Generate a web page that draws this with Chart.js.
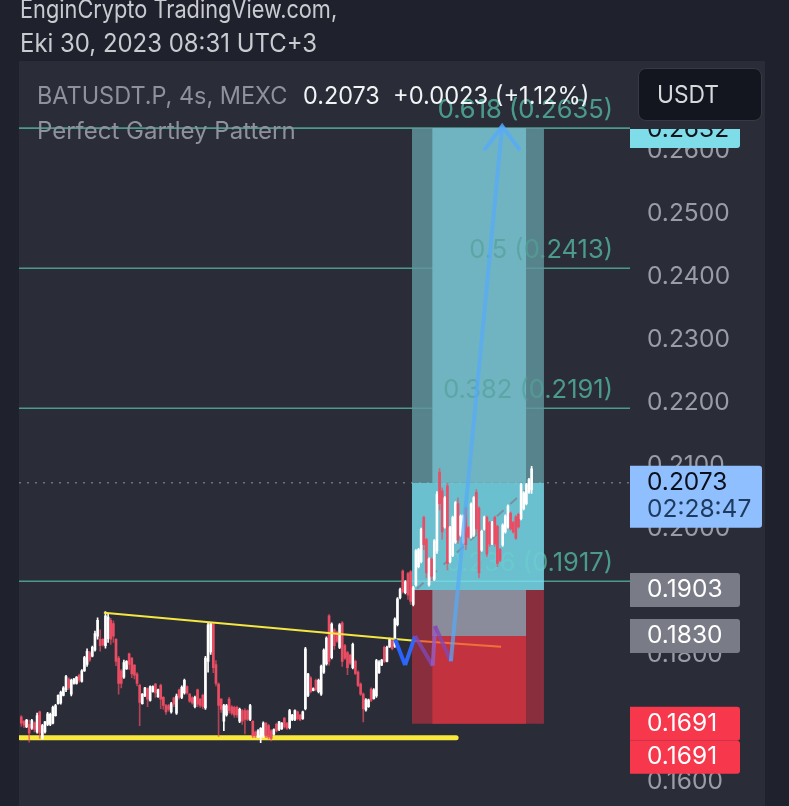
<!DOCTYPE html>
<html><head><meta charset="utf-8">
<script src="https://cdn.jsdelivr.net/npm/chart.js@4/dist/chart.umd.min.js"></script>
<style>
html,body{margin:0;padding:0;background:#1f222c;width:789px;height:806px;overflow:hidden}
#panel{position:absolute;left:19px;top:61px;width:746px;height:745px;background:#2a2d38}
canvas{position:absolute;left:0;top:0}
.t{position:absolute;white-space:nowrap;font-family:Inter,"Noto Sans",sans-serif;transform-origin:0 50%;line-height:30px;height:30px}
#usdt{position:absolute;left:638px;top:68px;width:124px;height:53px;background:#14161f;border:1px solid #363a46;border-radius:8px;box-sizing:border-box}
</style></head><body>
<div id="panel"></div>
<canvas id="c" width="789" height="839"></canvas>
<div class="t" style="left:20px;top:-6px;font-size:25px;color:#c9cbd1;transform:scaleX(.87)">EnginCrypto TradingView.com,</div>
<div class="t" style="left:20px;top:28px;font-size:25px;color:#c9cbd1;transform:scaleX(.957)">Eki 30, 2023 08:31 UTC+3</div>
<div class="t" style="left:37px;top:81px;font-size:24px;color:#8f929c;transform:scaleX(.977)">BATUSDT.P, 4s, MEXC</div>
<div class="t" style="left:303px;top:81px;font-size:24px;color:#f2f3f5;transform:scaleX(.975)">0.2073</div>
<div class="t" style="left:393px;top:81px;font-size:24px;color:#f2f3f5;transform:scaleX(.986)">+0.0023 (+1.12%)</div>
<div class="t" style="left:37px;top:116px;font-size:24px;color:#8f929c;transform:scaleX(1)">Perfect Gartley Pattern</div>
<div id="usdt"></div>
<div class="t" style="left:657px;top:80px;font-size:24px;color:#d6d8dc;transform:scaleX(.95)">USDT</div>
<script>
// candle prices in units of 0.0001 USDT
const opens=[1702,1695,1686,1690,1684,1693,1678,1710,1668,1678,1690,1690,1692,1704,1723,1724,1736,1745,1762,1738,1755,1755,1768,1758,1775,1785,1804,1798,1808,1830,1825,1825,1815,1826,1855,1850,1825,1795,1775,1765,1778,1802,1795,1784,1770,1752,1723,1735,1747,1728,1742,1754,1734,1752,1733,1720,1720,1710,1732,1708,1745,1733,1740,1750,1738,1732,1718,1745,1730,1736,1716,1790,1805,1850,1785,1754,1730,1695,1705,1730,1718,1717,1717,1695,1712,1712,1712,1698,1695,1678,1670,1670,1672,1692,1688,1680,1674,1690,1682,1683,1700,1692,1685,1697,1698,1710,1705,1699,1715,1736,1764,1744,1760,1742,1738,1773,1786,1862,1796,1840,1836,1812,1851,1815,1804,1800,1780,1790,1773,1754,1738,1713,1718,1746,1731,1735,1772,1784,1812,1790,1813,1823,1814,1848,1891,1933,1899,1929,1932,1880,1911,1940,1948,2018,1983,1911,1952,1920,1965,2090,2060,2003,2068,1948,1958,1979,2040,1990,1979,2033,2002,1987,1990,2058,2033,1966,2000,2018,2010,1977,2018,2004,1967,1974,1995,2003,2025,2010,2019,2023,2016,2032,2040,2058,2062];
const highs=[1704,1696,1698,1697,1698,1694,1708,1711,1690,1695,1709,1708,1719,1722,1737,1743,1750,1768,1764,1762,1763,1766,1770,1777,1798,1810,1806,1814,1838,1859,1840,1826,1869,1866,1858,1854,1826,1798,1777,1792,1791,1803,1796,1785,1772,1754,1739,1749,1748,1751,1751,1755,1746,1754,1734,1722,1722,1725,1733,1738,1746,1751,1762,1751,1739,1734,1735,1746,1731,1738,1798,1851,1852,1852,1791,1756,1731,1722,1722,1733,1720,1719,1719,1716,1714,1715,1713,1722,1696,1680,1682,1685,1694,1693,1690,1682,1683,1692,1695,1693,1701,1693,1714,1706,1713,1711,1706,1711,1812,1771,1766,1748,1762,1762,1784,1810,1829,1864,1851,1842,1838,1850,1853,1817,1806,1801,1819,1792,1775,1756,1740,1731,1730,1748,1747,1793,1791,1793,1814,1814,1827,1825,1859,1891,1906,1935,1918,1931,1934,1909,1967,1969,2001,2020,1985,1954,1954,1983,2059,2096,2065,2051,2072,2004,2020,2043,2049,2022,2022,2035,2004,2041,2051,2062,2035,1998,2020,2020,2012,2012,2020,2006,1969,2008,2022,2038,2027,2012,2021,2025,2072,2059,2072,2080,2099];
const lows=[1687,1685,1685,1662,1682,1678,1676,1668,1667,1676,1688,1688,1691,1703,1722,1722,1735,1742,1745,1735,1754,1754,1757,1757,1774,1782,1790,1797,1806,1825,1806,1814,1811,1820,1817,1820,1783,1738,1748,1763,1777,1777,1764,1762,1751,1688,1722,1734,1718,1727,1741,1733,1733,1715,1714,1706,1711,1708,1718,1706,1730,1731,1738,1738,1725,1722,1716,1718,1717,1715,1714,1773,1801,1772,1751,1671,1709,1680,1703,1708,1705,1701,1701,1693,1690,1675,1696,1696,1669,1669,1669,1661,1669,1669,1667,1664,1673,1678,1680,1682,1684,1682,1683,1696,1696,1697,1696,1698,1713,1734,1740,1743,1743,1740,1736,1771,1784,1784,1794,1809,1820,1810,1782,1793,1769,1785,1778,1769,1750,1736,1694,1711,1717,1726,1730,1733,1771,1783,1788,1789,1812,1808,1812,1846,1889,1898,1897,1888,1880,1878,1909,1938,1946,1967,1922,1909,1918,1918,1961,2030,1983,2001,1935,1946,1956,1977,1977,1988,1977,1967,1985,1985,1988,1993,1922,1964,1998,1956,1972,1975,1972,1940,1948,1972,1993,2001,1998,1993,1983,2001,2014,2030,2038,2056,2056];
const closes=[1692,1689,1697,1676,1696,1682,1704,1676,1688,1694,1707,1706,1717,1720,1736,1741,1748,1766,1748,1760,1762,1765,1760,1775,1796,1806,1792,1812,1834,1855,1815,1816,1862,1860,1825,1830,1790,1755,1755,1788,1790,1785,1770,1768,1755,1725,1738,1748,1730,1750,1750,1740,1745,1730,1720,1710,1714,1723,1722,1735,1733,1749,1760,1740,1727,1724,1733,1722,1720,1718,1795,1848,1850,1780,1755,1720,1714,1720,1720,1712,1708,1705,1705,1714,1695,1698,1698,1720,1672,1672,1680,1684,1692,1672,1670,1668,1682,1680,1694,1692,1686,1684,1712,1705,1712,1699,1697,1710,1810,1770,1742,1747,1745,1760,1782,1808,1827,1790,1849,1815,1822,1848,1790,1795,1780,1787,1817,1771,1752,1738,1715,1729,1729,1728,1745,1791,1789,1792,1790,1812,1825,1810,1857,1889,1904,1900,1916,1895,1885,1907,1965,1967,1999,1975,1930,1952,1925,1981,2055,2040,1995,2049,1945,2002,2018,2041,1982,2020,2020,1975,1987,2039,2049,2000,1930,1996,2018,1960,1976,2010,1976,1945,1950,2006,2020,2036,2000,1995,1985,2003,2070,2057,2070,2078,2095];

const tickValues=[1600,1700,1800,1900,2000,2100,2200,2300,2400,2500,2600];
const lastPrice=2073;
// Fibonacci levels
const fibRatios=['0.236','0.382','0.5','0.618'];
const fibPrices=[1917,2191,2413,2635];
// horizontal extent of the plot, in candle numbers
const plotStart=-0.875, plotEnd=231.4;
// position tool
const zoneOuter=[148.5,198.7], zoneInner=[156.2,191.9];
const zoneTop=2635, zoneLastPrice=2073, zoneEntry=1903, zoneMid=1830, zoneStop=1691;
// drawn lines: [candle number, price]
const supportX=[-0.5,165.3], supportY=[1669,1669];
const resistX=[31.4,148.5,182.4], resistY=[1867,1823,1813];
const patternX=[142.1,145.9,149.7,156.4,157.3,163.3], patternY=[1825,1784,1830,1783,1846,1790];
const arrowX=[163.3,182.8], arrowY=[1790,2638];
const headX=[176,182.8,189.6], headY=[2600,2638,2600];
const projX=[150.4,192.7], projY=[1905,2065];
// price tags
const tagEntry='0.1903', tagMid='0.1830', tagStop='0.1691', tagTarget='0.2632', countdown='02:28:47';

const n=v=>v/10000;
const pts=(xs,ys)=>xs.map((x,i)=>({x,y:n(ys[i])}));
const idx=opens.map((_,i)=>i);
const isUp=i=>closes[i]>=opens[i];
const WHITE='#ffffff', RED='#ea4d63';

function zone(xr,top,bot,color,order){
  return {type:'line',data:pts(xr,[top,top]),borderWidth:0,pointRadius:0,fill:{target:{value:n(bot)},above:color,below:color},backgroundColor:color,order};
}
function line(data,color,width,order,extra){
  return Object.assign({type:'line',data,borderColor:color,borderWidth:width,pointRadius:0,fill:false,tension:0,order},extra||{});
}
const datasets=[];
// under the zones
fibPrices.forEach(p=>datasets.push(line(pts([plotStart,plotEnd],[p,p]),'#4b9a8c',1.6,100)));
datasets.push(line(pts([plotStart,plotEnd],[lastPrice,lastPrice]),'#6f727d',1.4,100,{borderDash:[2,6]}));
// zones
datasets.push(zone(zoneOuter,zoneTop,zoneLastPrice,'rgba(98,150,160,.82)',90));
datasets.push(zone(zoneInner,zoneTop,zoneLastPrice,'#70b4c2',89));
datasets.push(zone(zoneOuter,zoneLastPrice,zoneEntry,'rgba(122,225,240,.82)',88));
datasets.push(zone(zoneOuter,zoneEntry,zoneStop,'rgba(159,46,61,.82)',87));
datasets.push(zone(zoneInner,zoneEntry,zoneMid,'#8a8c9b',86));
datasets.push(zone(zoneInner,zoneMid,zoneStop,'#c2333f',85));
const lastZoneIndex=datasets.length-1;
// lines under the candles
datasets.push(line(pts(supportX,supportY),'#f8e83c',5,60,{borderCapStyle:'round'}));
datasets.push(line(pts(projX,projY),'rgba(125,130,140,.75)',2,58,{borderDash:[9,9]}));
// candles
datasets.push({type:'bar',data:idx.map(i=>({x:i,y:[n(lows[i]),n(highs[i])]})),backgroundColor:idx.map(i=>isUp(i)?WHITE:'rgba(234,77,99,.7)'),barThickness:1,grouped:false,order:50});
datasets.push({type:'bar',data:idx.map(i=>({x:i,y:[n(opens[i]),n(closes[i])]})),backgroundColor:idx.map(i=>isUp(i)?WHITE:RED),barThickness:2,grouped:false,order:49});
// lines over the candles
const resistColors=['#f5e642','#f0703a'];
datasets.push(line(pts(resistX,resistY),'#f5e642',2,20,{segment:{borderColor:c=>resistColors[c.p0DataIndex]}}));
const patternColors=['#2962ff','#2f66f5','rgba(128,70,176,.85)','rgba(150,90,190,.85)','rgba(135,70,176,.8)'];
datasets.push(line(pts(patternX,patternY),'#2962ff',4,18,{borderJoinStyle:'miter',segment:{borderColor:c=>patternColors[c.p0DataIndex]}}));
datasets.push(line(pts(arrowX,arrowY),'rgba(85,170,250,.72)',4,17));
datasets.push(line(pts(headX,headY),'rgba(85,170,250,.8)',4,16,{borderJoinStyle:'miter'}));

function fibText(chart,colorFor){
  const y=chart.scales.y,ctx=chart.ctx;
  ctx.font='25.5px Inter';ctx.textAlign='right';ctx.textBaseline='middle';
  fibPrices.forEach((p,i)=>{ctx.fillStyle=colorFor(i);ctx.fillText(fibRatios[i]+' ('+n(p).toFixed(4)+')',613,y.getPixelForValue(n(p))-18);});
}
const overlay={
  id:'overlay',
  beforeDatasetsDraw(chart){
    chart.ctx.save();fibText(chart,()=>'#4b9a8c');chart.ctx.restore();
  },
  afterDatasetDraw(chart,args){
    if(args.index!==lastZoneIndex) return;
    // the labels show faintly through the zones
    const ctx=chart.ctx,x=chart.scales.x;
    ctx.save();
    ctx.beginPath();
    ctx.rect(x.getPixelForValue(zoneOuter[0]),0,x.getPixelForValue(zoneOuter[1])-x.getPixelForValue(zoneOuter[0]),806);
    ctx.clip();
    fibText(chart,i=>i===0?'rgba(75,154,140,.18)':'rgba(75,154,140,.55)');
    ctx.restore();
  },
  afterDraw(chart){
    const y=chart.scales.y,ctx=chart.ctx;
    const box=(x,t,w,h,c,r)=>{ctx.fillStyle=c;ctx.beginPath();ctx.roundRect(x,t,w,h,[0,r,r,0]);ctx.fill();};
    const text=(s,yy,c)=>{ctx.fillStyle=c;ctx.fillText(s,647,yy);};
    ctx.save();
    ctx.font='24.5px Inter';ctx.textAlign='left';ctx.textBaseline='middle';
    // target tag, cut off at its top edge
    const ty=y.getPixelForValue(n(2632));
    ctx.save();ctx.beginPath();ctx.rect(630,129,110,19);ctx.clip();
    box(630,ty-20,110,38,'#7fdde9',3);text(tagTarget,ty,'#10131a');ctx.restore();
    // last price
    const ly=y.getPixelForValue(n(lastPrice));
    box(630,ly-17,132,62,'#90bfff',3);
    text(n(lastPrice).toFixed(4),ly,'#0a0f1a');text(countdown,ly+27,'#1d3a5f');
    // gray tags
    const ey=y.getPixelForValue(n(zoneEntry));
    box(630,ey-17,110,34,'#797b86',3);text(tagEntry,ey,'#ffffff');
    const my=y.getPixelForValue(n(zoneMid));
    box(630,my-17,110,34,'#797b86',3);text(tagMid,my,'#ffffff');
    // stop tags
    const sy=y.getPixelForValue(n(zoneStop));
    box(630,sy-17,110,34,'#f7374b',3);text(tagStop,sy,'#ffffff');
    box(630,sy+17,110,33,'#f7374b',3);text(tagStop,sy+33,'#ffffff');
    ctx.restore();
  }
};

new Chart(document.getElementById('c'),{
  data:{datasets},
  plugins:[overlay],
  options:{
    responsive:false,animation:false,devicePixelRatio:1,
    layout:{padding:{left:19,top:61,right:24,bottom:0}},
    plugins:{legend:{display:false},tooltip:{enabled:false},title:{display:false}},
    scales:{
      x:{type:'linear',display:false,min:plotStart,max:plotEnd,offset:false},
      y:{type:'linear',position:'right',min:0.15587,max:0.27413,
        afterFit(s){s.width=135;},
        afterBuildTicks(s){s.ticks=tickValues.map(v=>({value:n(v)}));},
        grid:{display:false,drawTicks:false},border:{display:false},
        ticks:{padding:17,color:'#9a9da6',font:{family:'Inter',size:24.5},callback:v=>v.toFixed(4),autoSkip:false,maxRotation:0}
      }
    }
  }
});
</script>
</body></html>
